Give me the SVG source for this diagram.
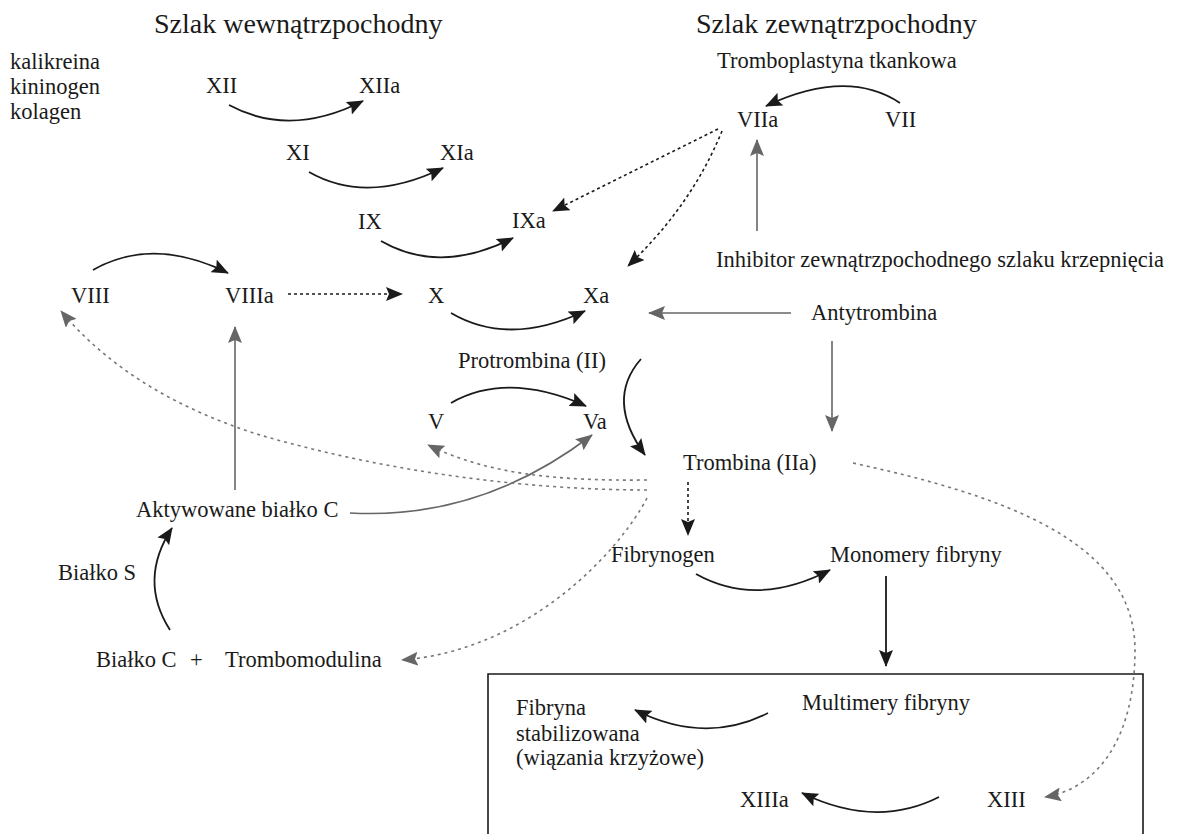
<svg xmlns="http://www.w3.org/2000/svg" width="1181" height="834" viewBox="0 0 1181 834">
<style>
text{font-family:"Liberation Serif","Times New Roman",serif;font-size:22.5px;fill:#1a1a1a}
.title{font-size:28px}
.k{fill:none;stroke:#1a1a1a;stroke-width:1.8}
.kd{fill:none;stroke:#1a1a1a;stroke-width:1.6;stroke-dasharray:3 3}
.g{fill:none;stroke:#666;stroke-width:1.6}
.gd{fill:none;stroke:#777;stroke-width:1.6;stroke-dasharray:3 4}
</style>
<defs>
<marker id="ak" markerUnits="userSpaceOnUse" markerWidth="17" markerHeight="14" refX="16" refY="7" orient="auto">
<path d="M0,0 L17,7 L0,14 L3,7 Z" fill="#1a1a1a"/>
</marker>
<marker id="ag" markerUnits="userSpaceOnUse" markerWidth="17" markerHeight="14" refX="16" refY="7" orient="auto">
<path d="M0,0 L17,7 L0,14 L3,7 Z" fill="#666"/>
</marker>
</defs>
<rect width="1181" height="834" fill="#fff"/>
<g id="titles">
<text class="title" x="154" y="33">Szlak wewnątrzpochodny</text>
<text class="title" x="696" y="33">Szlak zewnątrzpochodny</text>
</g>
<g id="n-kalikreina"><text x="10" y="69">kalikreina</text><text x="10" y="94">kininogen</text><text x="10" y="119">kolagen</text></g>
<g id="n-XII"><text x="206" y="93">XII</text></g>
<g id="n-XIIa"><text x="359" y="93">XIIa</text></g>
<g id="n-XI"><text x="286" y="160">XI</text></g>
<g id="n-XIa"><text x="440" y="160">XIa</text></g>
<g id="n-IX"><text x="358" y="229">IX</text></g>
<g id="n-IXa"><text x="512" y="228">IXa</text></g>
<g id="n-tromboplastyna"><text x="717" y="68">Tromboplastyna tkankowa</text></g>
<g id="n-VIIa"><text x="737" y="127">VIIa</text></g>
<g id="n-VII"><text x="885" y="127">VII</text></g>
<g id="n-inhibitor"><text x="716" y="267">Inhibitor zewnątrzpochodnego szlaku krzepnięcia</text></g>
<g id="n-VIII"><text x="71" y="303">VIII</text></g>
<g id="n-VIIIa"><text x="225" y="303">VIIIa</text></g>
<g id="n-X"><text x="428" y="303">X</text></g>
<g id="n-Xa"><text x="583" y="303">Xa</text></g>
<g id="n-antytrombina"><text x="811" y="320">Antytrombina</text></g>
<g id="n-protrombina"><text x="458" y="368">Protrombina (II)</text></g>
<g id="n-V"><text x="428" y="429">V</text></g>
<g id="n-Va"><text x="583" y="429">Va</text></g>
<g id="n-trombina"><text x="683" y="470">Trombina (IIa)</text></g>
<g id="n-aktywowane"><text x="136" y="517">Aktywowane białko C</text></g>
<g id="n-fibrynogen"><text x="611" y="562">Fibrynogen</text></g>
<g id="n-monomery"><text x="830" y="562">Monomery fibryny</text></g>
<g id="n-bialkoS"><text x="58" y="580">Białko S</text></g>
<g id="n-bialkoC"><text x="96" y="667">Białko C</text><text x="190" y="667">+</text></g>
<g id="n-trombomodulina"><text x="225" y="667">Trombomodulina</text></g>
<g id="n-box"><path d="M488,834 L488,674 L1143,674 L1143,834" fill="none" stroke="#1a1a1a" stroke-width="1.6"/></g>
<g id="n-multimery"><text x="802" y="710">Multimery fibryny</text></g>
<g id="n-fibryna"><text x="516" y="715">Fibryna</text><text x="516" y="741">stabilizowana</text><text x="516" y="765">(wiązania krzyżowe)</text></g>
<g id="n-XIIIa"><text x="740" y="807">XIIIa</text></g>
<g id="n-XIII"><text x="987" y="807">XIII</text></g>
<g id="connectors">
<path class="k" d="M229,105 Q290,138 363,101" marker-end="url(#ak)"/>
<path class="k" d="M309,172 Q367,205 443,168" marker-end="url(#ak)"/>
<path class="k" d="M381,241 Q440,275 513,238" marker-end="url(#ak)"/>
<path class="k" d="M93,270 Q153,236 228,273" marker-end="url(#ak)"/>
<path class="k" d="M451,313 Q509,347 585,311" marker-end="url(#ak)"/>
<path class="k" d="M451,403 Q507,371 586,406" marker-end="url(#ak)"/>
<path class="k" d="M696,574 Q757,608 830,570" marker-end="url(#ak)"/>
<path class="k" d="M768,713 Q705,745 635,710" marker-end="url(#ak)"/>
<path class="k" d="M939,797 Q876,829 802,793" marker-end="url(#ak)"/>
<path class="k" d="M900,103 Q847,68 766,106" marker-end="url(#ak)"/>
<path class="k" d="M641,359 Q605,400 645,455" marker-end="url(#ak)"/>
<path class="k" d="M170,630 Q138,580 172,528" marker-end="url(#ak)"/>
<path class="k" d="M886,576 L886,666" marker-end="url(#ak)"/>
<path class="kd" d="M288,294 L402,294" marker-end="url(#ak)"/>
<path class="kd" d="M718,129 L553,211" marker-end="url(#ak)"/>
<path class="kd" d="M722,131 Q692,205 628,266" marker-end="url(#ak)"/>
<path class="kd" d="M688,482 L688,535" marker-end="url(#ak)"/>
<path class="g" d="M350,513 C440,518 520,490 592,435" marker-end="url(#ag)"/>
<path class="g" d="M791,313 L649,313" marker-end="url(#ag)"/>
<path class="g" d="M832,341 L832,431" marker-end="url(#ag)"/>
<path class="g" d="M757,231 L757,140" marker-end="url(#ag)"/>
<path class="g" d="M235,490 L235,327" marker-end="url(#ag)"/>
<path class="gd" d="M647,490 C520,490 380,470 260,435 C180,410 110,370 61,311" marker-end="url(#ag)"/>
<path class="gd" d="M647,480 C560,481 490,475 428,445" marker-end="url(#ag)"/>
<path class="gd" d="M647,498 C620,550 530,650 402,660" marker-end="url(#ag)"/>
<path class="gd" d="M853,463 C1000,495 1135,540 1135,650 C1135,735 1100,788 1045,797" marker-end="url(#ag)"/>
</g>
</svg>
